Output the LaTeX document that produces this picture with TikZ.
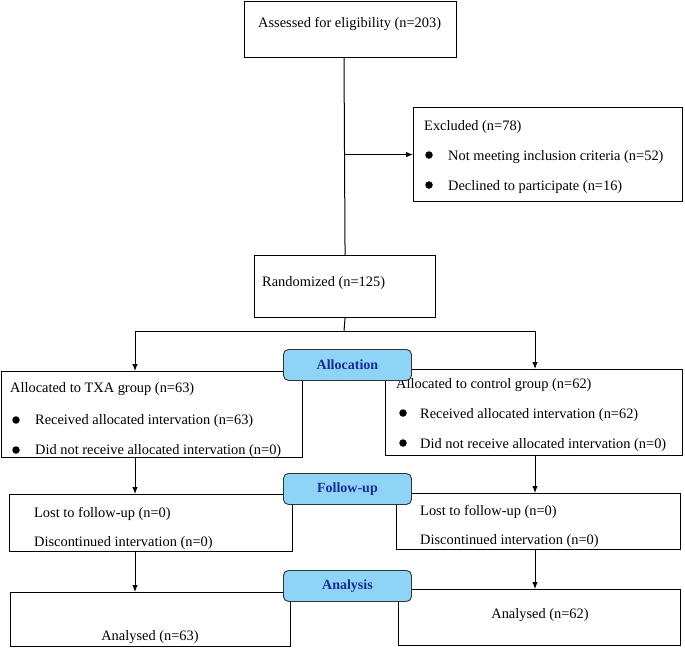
\documentclass[tikz,border=0pt]{standalone}
\usepackage{fontspec}
\setmainfont{Liberation Serif}
\usetikzlibrary{arrows.meta}
\definecolor{stagefill}{HTML}{8DD4F6}
\definecolor{stagetext}{HTML}{1A2A9A}
\tikzset{
  box/.style={draw=black, line width=1.1pt, fill=white, rectangle, anchor=north west, inner sep=0pt},
  txt/.style={anchor=base west, inner sep=0pt, font=\fontsize{14.4}{16}\selectfont},
  stage/.style={draw=black!80, line width=0.9pt, fill=stagefill, rounded corners=5pt, anchor=north west, minimum width=128pt, minimum height=31pt, inner sep=0pt, font=\fontsize{14}{16}\selectfont\bfseries\color{stagetext}},
  conn/.style={line width=1pt},
  arr/.style={line width=1pt, -{Latex[length=7pt,width=5.5pt]}},
  dot/.style={circle, fill=black, minimum size=7.5pt, inner sep=0pt}
}
\begin{document}
\begin{tikzpicture}[x=1pt,y=-1pt]
\useasboundingbox (0,0) rectangle (685,649);
% boxes
\node[box, minimum width=212pt, minimum height=56pt] (assess) at (244,1) {};
\node[txt] (assesst) at (258,27) {Assessed for eligibility (n=203)};
\node[box, minimum width=269pt, minimum height=94pt] (excl) at (413,107) {};
\node[txt] (exclt) at (424,130) {Excluded (n=78)};
\node[dot] (exd1) at (429,155) {};
\node[txt] (exclt1) at (448,160) {Not meeting inclusion criteria (n=52)};
\node[dot] (exd2) at (429,185) {};
\node[txt] (exclt2) at (448,190) {Declined to participate (n=16)};
\node[box, minimum width=181pt, minimum height=62pt] (rand) at (254,255) {};
\node[txt] (randt) at (262,286) {Randomized (n=125)};
% allocation
\node[box, minimum width=301pt, minimum height=86pt] (allocL) at (1,371) {};
\node[txt] (allocLt) at (10,392) {Allocated to TXA group (n=63)};
\node[dot] (aLd1) at (16,420) {};
\node[txt] (allocLt1) at (35,424) {Received allocated intervation (n=63)};
\node[dot] (aLd2) at (16,450) {};
\node[txt] (allocLt2) at (35,454) {Did not receive allocated intervation (n=0)};
\node[box, minimum width=297pt, minimum height=86pt] (allocR) at (385,369) {};
\node[txt] (allocRt) at (396,388) {Allocated to control group (n=62)};
\node[dot] (aRd1) at (403,413) {};
\node[txt] (allocRt1) at (420,418) {Received allocated intervation (n=62)};
\node[dot] (aRd2) at (403,443) {};
\node[txt] (allocRt2) at (420,448) {Did not receive allocated intervation (n=0)};
% follow-up
\node[box, minimum width=283pt, minimum height=57pt] (fuL) at (9,494) {};
\node[txt] (fuLt1) at (34,517) {Lost to follow-up (n=0)};
\node[txt] (fuLt2) at (34,546) {Discontinued intervation (n=0)};
\node[box, minimum width=284pt, minimum height=56pt] (fuR) at (396,493) {};
\node[txt] (fuRt1) at (420,515) {Lost to follow-up (n=0)};
\node[txt] (fuRt2) at (420,544) {Discontinued intervation (n=0)};
% analysis
\node[box, minimum width=280pt, minimum height=54pt] (anL) at (10,592) {};
\node[txt, anchor=base] (anLt) at (150,640) {Analysed (n=63)};
\node[box, minimum width=282pt, minimum height=56pt] (anR) at (398,589) {};
\node[txt, anchor=base] (anRt) at (540,618) {Analysed (n=62)};
% connectors
\coordinate (a1) at (344,57);
\coordinate (split) at (344,331);
\coordinate (sL) at (135,331);
\coordinate (sR) at (535,331);
\draw[conn] (a1) -- (rand.north);
\draw[arr] (rand.north |- excl.west) -- (excl.west);
\draw[conn] (rand.south) -- (split);
\draw[conn] (sL) -- (sR);
\draw[arr] (sL) -- (sL |- allocL.north);
\draw[arr] (sR) -- (sR |- allocR.north);
\draw[arr] (sL |- allocL.south) -- (sL |- fuL.north);
\draw[arr] (sR |- allocR.south) -- (sR |- fuR.north);
\draw[arr] (sL |- fuL.south) -- (sL |- anL.north);
\draw[arr] (sR |- fuR.south) -- (sR |- anR.north);
% stage labels
\node[stage] (stAlloc) at (283,349) {Allocation};
\node[stage] (stFollow) at (283,473) {Follow-up};
\node[stage] (stAnal) at (283,570) {Analysis};
\end{tikzpicture}
\end{document}
